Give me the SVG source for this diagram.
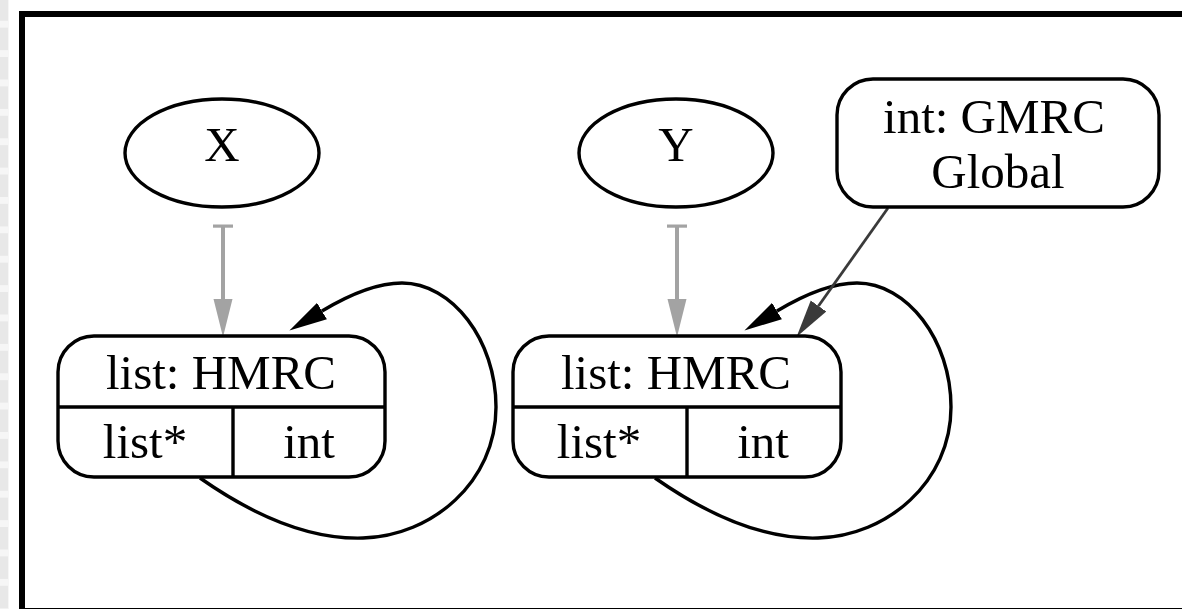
<svg xmlns="http://www.w3.org/2000/svg" width="1182" height="609" viewBox="0 0 1182 609">
  <defs>
    <style>
      .shape { fill: #ffffff; stroke: #000000; stroke-width: 3.4; }
      .rule { stroke: #000000; stroke-width: 3.4; fill: none; }
      .label { font-family: "Liberation Serif", "Times New Roman", serif; font-size: 49px; fill: #000000; text-anchor: middle; }
      .loop { fill: none; stroke: #000000; stroke-width: 3.4; marker-end: url(#headBlack); }
      .ref { fill: none; stroke: #a3a3a3; stroke-width: 4; marker-start: url(#teeGray); marker-end: url(#headGray); }
      .glob { fill: none; stroke: #3a3a3a; stroke-width: 2.8; marker-end: url(#headDark); }
    </style>
    <pattern id="strip" x="0" y="-1.75" width="9" height="29.375" patternUnits="userSpaceOnUse">
      <rect x="0" y="0" width="9" height="29.375" fill="#f6f6f6"/>
      <rect x="0" y="0" width="8" height="22.5" fill="#e8e8e8"/>
    </pattern>
    <marker id="headBlack" markerUnits="userSpaceOnUse" viewBox="0 0 38 20" markerWidth="38" markerHeight="20" refX="0" refY="10" orient="auto">
      <path d="M0,0.5 L38,10 L0,19.5 Z" fill="#000000"/>
    </marker>
    <marker id="headGray" markerUnits="userSpaceOnUse" viewBox="0 0 38 20" markerWidth="38" markerHeight="20" refX="0" refY="10" orient="auto">
      <path d="M0,0.5 L38,10 L0,19.5 Z" fill="#a3a3a3"/>
    </marker>
    <marker id="headDark" markerUnits="userSpaceOnUse" viewBox="0 0 38 20" markerWidth="38" markerHeight="20" refX="0" refY="10" orient="auto">
      <path d="M0,0.5 L38,10 L0,19.5 Z" fill="#3a3a3a"/>
    </marker>
    <marker id="teeGray" markerUnits="userSpaceOnUse" viewBox="0 0 4 20" markerWidth="4" markerHeight="20" refX="2" refY="10" orient="auto">
      <rect x="0.5" y="0" width="3.2" height="20" fill="#a3a3a3"/>
    </marker>
  </defs>

  <!-- page background and frame -->
  <rect x="0" y="0" width="1182" height="609" fill="#ffffff"/>
  <rect x="0" y="0" width="9" height="609" fill="url(#strip)"/>
  <rect x="22" y="14" width="1180" height="597" fill="#ffffff" stroke="#000000" stroke-width="6"/>

  <!-- connectors -->
  <g id="connectors">
    <path class="ref" d="M223,226 L223,299"/>
    <path class="ref" d="M677,226 L677,299"/>
    <path class="loop" d="M200,478 C240,506 300,540 363,538 C432,536 496,482 496,407 C496,340 452,283 402,283 C376,283 347,296 322,311"/>
    <path class="loop" d="M655,478 C695,506 755,540 818,538 C887,536 951,482 951,407 C951,340 907,283 857,283 C831,283 802,296 777,311"/>
    <path class="glob" d="M888,208 L818.5,306"/>
  </g>

  <!-- variable X -->
  <g id="nodeX">
    <ellipse class="shape" cx="222" cy="153" rx="97" ry="54"/>
    <text class="label" x="222" y="161">X</text>
  </g>

  <!-- variable Y -->
  <g id="nodeY">
    <ellipse class="shape" cx="676" cy="153" rx="97" ry="54"/>
    <text class="label" x="676" y="161">Y</text>
  </g>

  <!-- list record held by X -->
  <g id="listX">
    <rect class="shape" x="58" y="336" width="327" height="141" rx="36" ry="36"/>
    <path class="rule" d="M58,407 L385,407 M233,407 L233,477"/>
    <text class="label" x="221" y="389">list: HMRC</text>
    <text class="label" x="145" y="458">list*</text>
    <text class="label" x="309" y="458">int</text>
  </g>

  <!-- list record held by Y -->
  <g id="listY">
    <rect class="shape" x="513" y="336" width="328" height="141" rx="36" ry="36"/>
    <path class="rule" d="M513,407 L841,407 M687,407 L687,477"/>
    <text class="label" x="676" y="389">list: HMRC</text>
    <text class="label" x="599" y="458">list*</text>
    <text class="label" x="763" y="458">int</text>
  </g>

  <!-- global counter -->
  <g id="globalInt">
    <rect class="shape" x="837" y="79" width="322" height="128" rx="36" ry="36"/>
    <text class="label" x="994" y="133">int: GMRC</text>
    <text class="label" x="998" y="188">Global</text>
  </g>
</svg>
